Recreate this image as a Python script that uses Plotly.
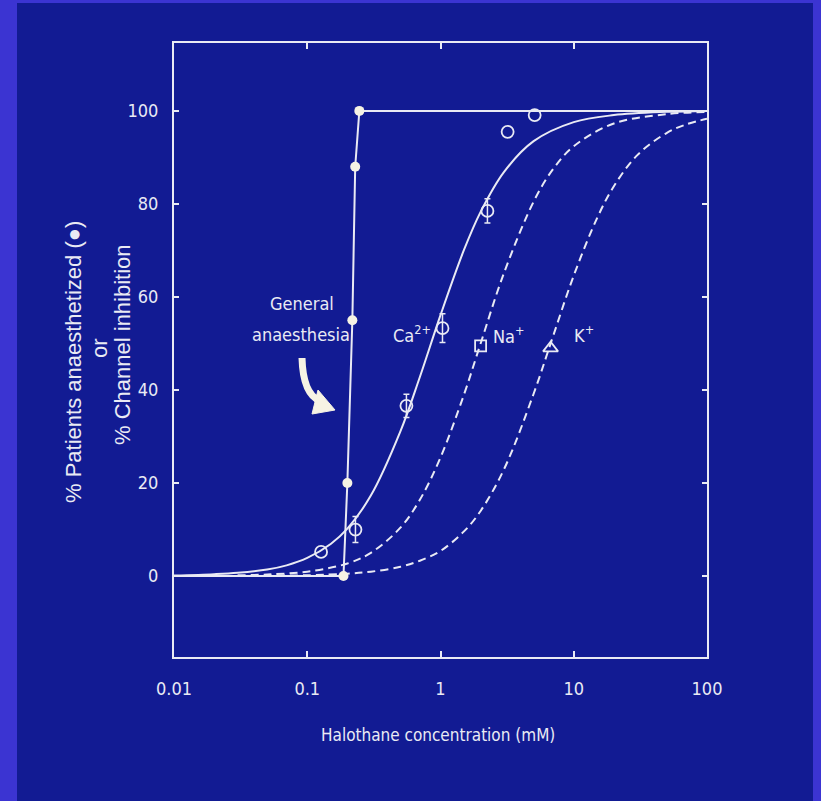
import plotly.graph_objects as go

# ---------------- data ----------------
# General anaesthesia (filled circles) and its step-like curve
ga_x = [0.187, 0.200, 0.218, 0.229, 0.246]
ga_y = [0, 20, 55, 88, 100]
ga_line_x = [0.01, 0.187, 0.200, 0.218, 0.229, 0.246, 100]
ga_line_y = [0, 0, 20, 55, 88, 100, 100]

# Ca2+ channel data (open circles); error of 0 = no error bar drawn
ca_x = [0.127, 0.23, 0.555, 1.035, 2.25, 3.19, 5.09]
ca_y = [5.2, 10.0, 36.6, 53.3, 78.5, 95.5, 99.1]
ca_err = [0, 2.8, 2.5, 3.1, 2.6, 0, 0]

# Ca2+ fitted curve (solid)
ca_curve_x = [0.01, 0.02, 0.03, 0.05, 0.07, 0.1, 0.15, 0.2, 0.3, 0.5, 0.7, 1, 1.5, 2, 3, 5, 10, 20, 50, 100]
ca_curve_y = [0.1, 0.4, 0.7, 1.4, 2.3, 3.9, 6.9, 10.2, 17.3, 31.1, 42.8, 56.1, 70.1, 78.3, 86.9, 93.5, 97.6, 99.1, 99.8, 100]

# Na+ curve (dashed) and marker
na_curve_x = [0.03, 0.05, 0.1, 0.2, 0.3, 0.5, 0.7, 1, 1.5, 2, 3, 5, 7, 10, 20, 50, 100]
na_curve_y = [0.15, 0.33, 0.95, 2.7, 5.0, 10.4, 16.4, 25.5, 39.0, 50.0, 65.2, 80.5, 87.5, 92.4, 97.3, 99.3, 99.8]
na_pt_x = [2.0]
na_pt_y = [49.5]

# K+ curve (dashed) and marker
k_curve_x = [0.03, 0.1, 0.2, 0.3, 0.5, 0.7, 1, 1.5, 2, 3, 5, 7, 10, 15, 20, 30, 50, 70, 100]
k_curve_y = [0.0, 0.18, 0.51, 0.94, 2.0, 3.3, 5.4, 9.6, 14.0, 23.0, 39.2, 51.6, 64.6, 77.0, 83.8, 90.5, 95.3, 97.1, 98.3]
k_pt_x = [6.7]
k_pt_y = [49.0]

x_tickvals = [0.01, 0.1, 1, 10, 100]
x_ticktext = ["0.01", "0.1", "1", "10", "100"]
y_tickvals = [0, 20, 40, 60, 80, 100]
y_ticktext = ["0", "20", "40", "60", "80", "100"]

# ---------------- style ----------------
W, H = 821, 801
L, R, T, B = 174, 114, 43, 144
PW, PH = W - L - R, H - T - B
FG = "#e9eaf4"
DOT = "#f6f3e4"
BG_IN = "#121b93"
BG_OUT = "#3b34d2"
NARROW = "DejaVu Sans Condensed, Liberation Sans Narrow, Arial Narrow, sans-serif"
REG = "Liberation Sans, Arial, sans-serif"


def px(x):
    return (x - L) / PW


def py(y):
    return (H - B - y) / PH


# split Ca points into those with and without error bars
ca_eb = [(x, y, e) for x, y, e in zip(ca_x, ca_y, ca_err) if e > 0]
ca_ne = [(x, y) for x, y, e in zip(ca_x, ca_y, ca_err) if e <= 0]

fig = go.Figure()

fig.add_trace(go.Scatter(x=ca_curve_x, y=ca_curve_y, mode="lines",
                         line=dict(color=FG, width=2, shape="spline"), hoverinfo="skip"))
fig.add_trace(go.Scatter(x=na_curve_x, y=na_curve_y, mode="lines",
                         line=dict(color=FG, width=2, dash="8px,5px", shape="spline"), hoverinfo="skip"))
fig.add_trace(go.Scatter(x=k_curve_x, y=k_curve_y, mode="lines",
                         line=dict(color=FG, width=2, dash="8px,5px", shape="spline"), hoverinfo="skip"))
fig.add_trace(go.Scatter(x=ga_line_x, y=ga_line_y, mode="lines",
                         line=dict(color=FG, width=2), hoverinfo="skip"))
fig.add_trace(go.Scatter(x=ga_x, y=ga_y, mode="markers",
                         marker=dict(color=DOT, size=10, line=dict(width=0))))
ca_marker = dict(symbol="circle-open", color=FG, size=12, line=dict(width=1.8))
fig.add_trace(go.Scatter(x=[p[0] for p in ca_eb], y=[p[1] for p in ca_eb], mode="markers",
                         marker=ca_marker,
                         error_y=dict(type="data", array=[p[2] for p in ca_eb], color=FG,
                                      thickness=1.5, width=3)))
fig.add_trace(go.Scatter(x=[p[0] for p in ca_ne], y=[p[1] for p in ca_ne], mode="markers",
                         marker=ca_marker))
fig.add_trace(go.Scatter(x=na_pt_x, y=na_pt_y, mode="markers",
                         marker=dict(symbol="square-open", color=FG, size=11, line=dict(width=1.8))))
fig.add_trace(go.Scatter(x=k_pt_x, y=k_pt_y, mode="markers",
                         marker=dict(symbol="triangle-up-open", color=FG, size=13, line=dict(width=1.8))))

shapes = [
    # inner background panel (outer band is the paper colour)
    dict(type="rect", xref="paper", yref="paper", x0=px(17), x1=px(813), y0=py(801), y1=py(3),
         fillcolor=BG_IN, line=dict(width=0), layer="below"),
    # curved arrow shaft
    dict(type="path", xref="paper", yref="paper",
         path=f"M {px(302)},{py(358)} Q {px(303)},{py(394)} {px(320)},{py(401)}",
         line=dict(color=DOT, width=7)),
    # arrow head
    dict(type="path", xref="paper", yref="paper",
         path=f"M {px(318)},{py(390)} L {px(335)},{py(410)} L {px(312)},{py(414)} Z",
         fillcolor=DOT, line=dict(color=DOT, width=1)),
]


def ann(text, x, y, font, **kw):
    return dict(text=text, x=px(x), y=py(y), xref="paper", yref="paper", showarrow=False,
                xanchor="center", yanchor="middle", font=font, **kw)


lab = dict(family=NARROW, size=18, color=FG)
ytit = dict(family=REG, size=22, color=FG)
annotations = [
    ann("General", 302, 303, lab),
    ann("anaesthesia", 301, 334, lab),
    ann("Ca<sup>2+</sup>", 412, 334, lab),
    ann("Na<sup>+</sup>", 509, 335, lab),
    ann("K<sup>+</sup>", 584, 334, lab),
    ann("Halothane concentration (mM)", 438, 735, dict(family=NARROW, size=17, color=FG)),
    ann("% Patients anaesthetized (●)", 73, 362, ytit, textangle=-90),
    ann("or", 99, 348, ytit, textangle=-90),
    ann("% Channel inhibition", 122, 345, ytit, textangle=-90),
]

fig.update_layout(
    width=W, height=H,
    margin=dict(l=L, r=R, t=T, b=B, pad=0),
    paper_bgcolor=BG_OUT, plot_bgcolor=BG_IN,
    showlegend=False,
    shapes=shapes, annotations=annotations,
    xaxis=dict(type="log", range=[-2, 2], tickvals=x_tickvals, ticktext=x_ticktext,
               showgrid=False, zeroline=False, showline=True, linecolor=FG, linewidth=2,
               mirror="ticks", ticks="inside", ticklen=6, tickwidth=1.5, tickcolor=FG,
               tickfont=dict(family=NARROW, size=18, color=FG), ticklabelstandoff=14),
    yaxis=dict(range=[-17.4, 114.6], tickvals=y_tickvals, ticktext=y_ticktext,
               showgrid=False, zeroline=False, showline=True, linecolor=FG, linewidth=2,
               mirror="ticks", ticks="inside", ticklen=5, tickwidth=1.5, tickcolor=FG,
               tickfont=dict(family=NARROW, size=18, color=FG), ticklabelstandoff=10),
)

fig.write_html("out.html", config={"displayModeBar": False},
               post_script="document.body.style.margin='0';document.body.style.overflow='hidden';")
